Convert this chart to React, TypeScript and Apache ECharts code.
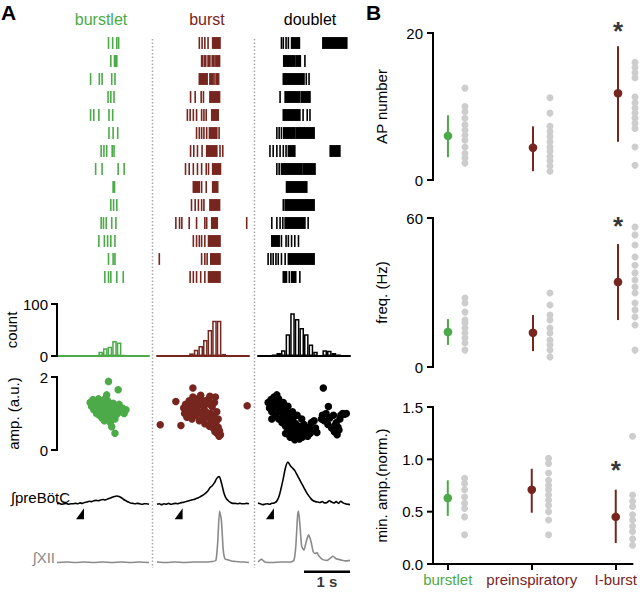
import React, { useEffect, useRef } from 'react';
import * as echarts from 'echarts';

const GREEN = '#4caa48';
const BROWN = '#76261e';
const BLACK = '#000000';
const GRAY_DOT = '#cdcdcd';
const GRAY_TRACE = '#8a8a8a';
const FONT = '"Liberation Sans", Arial, Helvetica, sans-serif';

type Spike = number | [number, number];

// ---------- Panel A data (time in s, 0..2 per column) ----------
const columnNames = ['burstlet', 'burst', 'doublet'];

const burstletRaster: Spike[][] = [
  [1.12, 1.21, 1.3, 1.34],
  [1.17, 1.25, 1.27, 1.3],
  [0.73, 0.92, 0.98, 1.19, 1.26],
  [1.11, 1.17, 1.24],
  [0.73, 0.8, 0.91, 1.13, 1.21],
  [1.13, 1.22, 1.32],
  [0.96, 1.02, 1.08, 1.2, 1.24],
  [0.84, 0.98, 1.33, 1.46],
  [[1.22, 1.25]],
  [1.17, 1.23, 1.3],
  [0.96, 1.01, 1.07, 1.19, 1.28],
  [0.91, 1.03, 1.1, 1.17, 1.26],
  [1.12, 1.22, 1.26],
  [1.04, 1.12, 1.17, 1.3, 1.44],
];

const burstRaster: Spike[][] = [
  [0.92, 0.98, 1.04, 1.11, [1.21, 1.37]],
  [[0.97, 0.99], [1.03, 1.06], [1.11, 1.15], [1.2, 1.24], [1.28, 1.36]],
  [[0.92, 1.07], 1.09, [1.15, 1.22], 1.26, [1.3, 1.34]],
  [0.73, 0.83, 0.96, 1.01, [1.15, 1.36]],
  [0.66, 0.72, 0.79, 0.86, 0.97, 1.02, 1.07, [1.19, 1.33]],
  [0.86, 0.92, 0.97, 1.02, 1.08, [1.14, 1.3], 1.35],
  [0.73, 0.8, 0.88, 0.98, [1.08, 1.3], 1.37, 1.43],
  [0.62, 0.7, 0.79, 0.88, 0.97, 1.07, 1.12, [1.21, 1.38]],
  [[0.79, 0.92], 0.97, 1.07, [1.21, 1.32]],
  [0.75, 0.83, 0.9, 0.97, 1.02, [1.15, 1.36]],
  [0.41, 0.49, 0.54, 0.7, 0.86, 1.04, 1.08, [1.19, 1.31], 1.95],
  [0.79, 0.86, 0.92, 0.97, 1.04, [1.12, 1.37]],
  [0.05, 0.97, 1.04, 1.09, [1.17, 1.37]],
  [0.72, 0.79, 0.86, 0.95, 1.04, [1.12, 1.37]],
];

const doubletRaster: Spike[][] = [
  [0.51, 0.55, 0.61, 0.66, [0.73, 0.9], [1.41, 1.93]],
  [[0.56, 0.8], [0.83, 0.92], 1.02],
  [[0.55, 1.0], 1.05, 1.11],
  [0.48, [0.59, 0.91], [0.95, 1.13]],
  [[0.55, 0.91], 0.98, 1.07, 1.13],
  [0.41, 0.46, 0.51, [0.56, 0.8], [0.83, 1.22]],
  [0.26, 0.33, 0.41, 0.48, 0.55, 0.61, [0.66, 0.8], [1.57, 1.78]],
  [0.41, 0.46, [0.51, 0.95], [0.98, 1.24]],
  [[0.62, 0.83], [0.86, 1.06]],
  [0.55, [0.59, 1.22]],
  [0.3, 0.41, 0.48, 0.54, [0.59, 1.02], 1.09],
  [[0.3, 0.46], 0.51, 0.61, 0.66, 0.73, 0.8, 0.88],
  [0.22, 0.28, 0.33, 0.39, 0.44, 0.51, 0.59, [0.66, 1.22]],
  [[0.55, 0.62], 0.68, [0.73, 0.82], 0.91],
];

// spike-count histograms, 20 bins of 0.1 s
const histBins = Array.from({ length: 20 }, (_, i) => (i / 10).toFixed(1));
const burstletHist = [0, 0, 0, 0, 0, 0, 0, 0, 0, 8, 15, 18, 29, 26, 2, 0, 0, 0, 0, 0];
const burstHist = [0, 0, 0, 0, 0, 0, 0, 5, 12, 19, 31, 50, 68, 68, 4, 0, 0, 0, 0, 0];
const doubletHist = [0, 0, 0, 3, 6, 11, 42, 82, 71, 54, 42, 22, 8, 0, 11, 10, 6, 3, 0, 0];
const countTicks = [0, 100];
const ampTicks = [0, 2];

// amplitude (a.u.) vs time (s)
const burstletAmp: [number, number][] = [
  [0.72, 1.3], [0.75, 1.2], [0.78, 1.38], [0.8, 1.1], [0.82, 1.25], [0.85, 1.32], [0.86, 1.0], [0.88, 1.18],
  [0.9, 1.4], [0.92, 0.95], [0.93, 1.08], [0.95, 1.22], [0.97, 1.3], [0.98, 0.88], [1.0, 1.05], [1.02, 1.15],
  [1.03, 0.8], [1.05, 1.28], [1.06, 0.95], [1.08, 1.1], [1.1, 1.35], [1.11, 0.85], [1.13, 1.02], [1.15, 1.2],
  [1.16, 0.75], [1.18, 1.12], [1.2, 0.92], [1.22, 1.28], [1.24, 1.05], [1.26, 0.85], [1.28, 1.18], [1.3, 0.98],
  [1.32, 1.1], [1.35, 1.25], [1.38, 1.05], [1.42, 1.15], [1.46, 1.0], [1.5, 1.1], [0.84, 1.12], [1.04, 1.4],
  [1.12, 1.88], [1.33, 1.65], [1.08, 1.51], [1.26, 0.46], [1.19, 0.64],
];
const burstAmp: [number, number][] = [
  [0.58, 1.15], [0.6, 1.0], [0.62, 1.25], [0.65, 0.9], [0.67, 1.1], [0.7, 1.35], [0.72, 1.02], [0.74, 1.2],
  [0.76, 0.85], [0.78, 1.45], [0.8, 1.1], [0.82, 1.3], [0.84, 0.95], [0.86, 1.18], [0.88, 1.4], [0.9, 1.05],
  [0.92, 0.8], [0.94, 1.25], [0.96, 1.0], [0.98, 1.35], [1.0, 0.88], [1.02, 1.15], [1.04, 0.72], [1.06, 1.05],
  [1.08, 1.28], [1.1, 0.9], [1.12, 1.4], [1.14, 0.65], [1.16, 1.0], [1.18, 0.8], [1.2, 1.18], [1.22, 0.6],
  [1.24, 0.92], [1.26, 0.5], [1.28, 0.75], [1.3, 1.05], [1.31, 0.45], [1.33, 0.62], [1.35, 0.38], [1.36, 0.52],
  [1.38, 0.42], [1.33, 0.85], [1.25, 1.3], [1.27, 1.45], [0.95, 1.5], [1.05, 1.35], [1.15, 1.25], [0.7, 1.2],
  [0.07, 0.69], [0.52, 0.67], [0.41, 1.33], [1.96, 1.21], [0.78, 1.7], [1.15, 1.47],
];
const doubletAmp: [number, number][] = [
  [0.22, 1.3], [0.25, 1.15], [0.28, 1.38], [0.3, 1.05], [0.33, 1.25], [0.35, 1.45], [0.38, 0.95], [0.4, 1.15],
  [0.42, 1.32], [0.45, 0.85], [0.47, 1.05], [0.5, 1.22], [0.52, 0.75], [0.55, 0.95], [0.57, 1.12], [0.6, 0.65],
  [0.62, 0.85], [0.64, 1.02], [0.66, 0.55], [0.68, 0.75], [0.7, 0.92], [0.72, 0.45], [0.74, 0.62], [0.76, 0.82],
  [0.78, 0.38], [0.8, 0.55], [0.82, 0.72], [0.84, 0.32], [0.86, 0.48], [0.88, 0.65], [0.9, 0.3], [0.92, 0.42],
  [0.94, 0.58], [0.96, 0.35], [0.98, 0.5], [1.0, 0.7], [1.02, 0.4], [1.05, 0.55], [1.08, 0.38], [1.1, 0.62],
  [1.13, 0.45], [1.16, 0.75], [1.18, 0.52], [1.22, 0.8], [1.25, 0.6], [1.28, 0.48], [0.3, 0.85], [0.45, 1.4],
  [0.55, 1.3], [0.65, 1.2], [0.75, 1.05], [0.85, 0.95], [0.95, 0.85], [0.6, 0.45], [0.7, 0.35], [0.8, 0.28],
  [1.38, 0.85], [1.4, 0.95], [1.44, 0.8], [1.48, 1.0], [1.52, 0.7], [1.56, 0.88], [1.6, 0.6], [1.64, 0.95],
  [1.66, 0.5], [1.7, 0.75], [1.72, 0.42], [1.74, 0.62], [1.78, 0.85], [1.8, 0.95], [1.84, 1.0], [1.88, 0.98],
  [1.92, 1.0], [1.76, 0.55], [1.68, 0.68], [1.42, 1.7], [1.53, 1.19], [0.41, 1.51],
];

// integrated preBötC traces (normalised), [t, value]
const burstletPre: [number, number][] = [
  [0, 0.03], [0.05, 0.04], [0.1, 0.02], [0.15, 0.03], [0.2, 0.04], [0.25, 0.02], [0.3, 0.03], [0.35, 0.03],
  [0.4, 0.04], [0.45, 0.03], [0.5, 0.05], [0.55, 0.04], [0.6, 0.06], [0.65, 0.07], [0.7, 0.09], [0.75, 0.08],
  [0.8, 0.1], [0.85, 0.11], [0.9, 0.1], [0.95, 0.12], [1.0, 0.13], [1.05, 0.12], [1.1, 0.14], [1.15, 0.16],
  [1.2, 0.18], [1.25, 0.2], [1.3, 0.21], [1.35, 0.2], [1.4, 0.17], [1.45, 0.13], [1.5, 0.1], [1.55, 0.07],
  [1.6, 0.05], [1.65, 0.04], [1.7, 0.03], [1.75, 0.04], [1.8, 0.03], [1.85, 0.02], [1.9, 0.03], [1.95, 0.03], [2.0, 0.02],
];
const burstPre: [number, number][] = [
  [0, 0.02], [0.05, 0.03], [0.1, 0.01], [0.15, 0.03], [0.2, 0.02], [0.25, 0.04], [0.3, 0.02], [0.35, 0.03],
  [0.4, 0.04], [0.45, 0.03], [0.5, 0.05], [0.55, 0.06], [0.6, 0.07], [0.65, 0.09], [0.7, 0.1], [0.75, 0.12],
  [0.8, 0.13], [0.85, 0.15], [0.9, 0.17], [0.95, 0.2], [1.0, 0.23], [1.05, 0.27], [1.1, 0.32], [1.15, 0.4],
  [1.2, 0.45], [1.25, 0.52], [1.3, 0.62], [1.35, 0.66], [1.4, 0.52], [1.45, 0.3], [1.5, 0.16], [1.55, 0.1],
  [1.6, 0.06], [1.65, 0.04], [1.7, 0.04], [1.75, 0.03], [1.8, 0.04], [1.85, 0.03], [1.9, 0.03], [1.95, 0.04], [2.0, 0.03],
];
const doubletPre: [number, number][] = [
  [0, 0.05], [0.05, 0.03], [0.1, 0.01], [0.15, 0.02], [0.2, 0.03], [0.25, 0.02], [0.3, 0.04], [0.35, 0.05],
  [0.4, 0.08], [0.45, 0.18], [0.5, 0.38], [0.55, 0.62], [0.6, 0.88], [0.65, 1.0], [0.7, 0.92], [0.75, 0.86],
  [0.8, 0.8], [0.85, 0.7], [0.9, 0.6], [0.95, 0.5], [1.0, 0.4], [1.05, 0.3], [1.1, 0.22], [1.15, 0.15],
  [1.2, 0.1], [1.25, 0.08], [1.3, 0.07], [1.35, 0.06], [1.4, 0.08], [1.45, 0.05], [1.5, 0.06], [1.55, 0.1],
  [1.6, 0.07], [1.65, 0.05], [1.7, 0.08], [1.75, 0.04], [1.8, 0.09], [1.85, 0.05], [1.9, 0.03], [1.95, 0.02], [2.0, 0.01],
];

// integrated XII traces (normalised), [t, value]
const burstletXII: [number, number][] = [
  [0, 0.01], [0.2, 0.02], [0.4, 0.01], [0.6, 0.02], [0.8, 0.01], [1.0, 0.02], [1.2, 0.01], [1.4, 0.02],
  [1.6, 0.01], [1.8, 0.02], [2.0, 0.01],
];
const burstXII: [number, number][] = [
  [0, 0.02], [0.2, 0.01], [0.4, 0.02], [0.6, 0.01], [0.8, 0.02], [1.0, 0.02], [1.2, 0.03], [1.28, 0.05],
  [1.32, 0.4], [1.36, 1.0], [1.4, 0.82], [1.44, 0.25], [1.48, 0.08], [1.55, 0.06], [1.62, 0.04], [1.7, 0.03],
  [1.8, 0.02], [1.9, 0.02], [2.0, 0.01],
];
const doubletXII: [number, number][] = [
  [0, 0.02], [0.05, 0.06], [0.08, 0.07], [0.12, 0.04], [0.15, 0.02], [0.3, 0.01], [0.5, 0.02], [0.7, 0.02],
  [0.78, 0.05], [0.82, 0.3], [0.86, 0.9], [0.88, 1.0], [0.91, 0.75], [0.95, 0.32], [1.0, 0.25], [1.05, 0.42],
  [1.1, 0.54], [1.15, 0.42], [1.2, 0.22], [1.24, 0.18], [1.28, 0.2], [1.32, 0.14], [1.4, 0.07], [1.5, 0.05],
  [1.58, 0.1], [1.63, 0.13], [1.7, 0.08], [1.8, 0.06], [1.9, 0.04], [2.0, 0.05],
];

const stimTimes = [0.5, 0.47, 0.26];
const scaleBarSec: [number, number] = [1, 2];

// ---------- Panel B data ----------
const bCategories = ['burstlet', 'preinspiratory', 'I-burst'];

const apDots = [
  [12.5, 10.0, 9.3, 8.4, 7.5, 6.8, 6.1, 5.4, 4.5, 3.6, 3.0, 2.3],
  [11.2, 9.1, 7.3, 6.6, 5.9, 5.2, 4.5, 3.9, 3.2, 2.6, 1.9, 1.2],
  [16.0, 15.3, 14.6, 13.9, 11.3, 10.5, 9.8, 9.1, 8.4, 7.7, 7.0, 4.5, 2.0],
];
const apMean = [6.0, 4.4, 11.8];
const apLow = [3.1, 1.2, 5.2];
const apHigh = [8.8, 7.3, 18.2];
const apTicks = [0, 20];

const freqDots = [
  [27.8, 25.8, 22.1, 18.9, 17.7, 15.7, 13.7, 11.7, 9.7, 6.8],
  [29.8, 25.0, 20.9, 18.9, 15.7, 13.7, 10.9, 8.9, 6.8, 4.0],
  [56.4, 53.2, 49.1, 44.3, 41.0, 37.9, 35.0, 32.2, 29.8, 25.8, 23.0, 20.1, 16.9, 6.8],
];
const freqMean = [14.1, 13.8, 34.2];
const freqLow = [8.9, 6.4, 18.9];
const freqHigh = [19.3, 20.9, 49.5];
const freqTicks = [0, 60];

const ampDots = [
  [0.82, 0.77, 0.71, 0.64, 0.58, 0.53, 0.45, 0.28],
  [1.01, 0.96, 0.87, 0.8, 0.75, 0.71, 0.66, 0.61, 0.56, 0.5, 0.42, 0.28],
  [1.22, 0.66, 0.6, 0.55, 0.47, 0.42, 0.36, 0.31, 0.24, 0.18],
];
const ampMean = [0.63, 0.71, 0.45];
const ampLow = [0.46, 0.49, 0.2];
const ampHigh = [0.8, 0.91, 0.71];
const minAmpTicks = [0, 0.5, 1.0, 1.5];

// significance markers (value at which "*" is drawn, I-burst only)
const sigAP = 20.3;
const sigFreq = 56.8;
const sigAmp = 0.9;

// ---------- build chart ----------
function leftAxis(gi: number, min: number, max: number, interval: number, name: string, nameGap: number, margin: number, fmt?: (v: number) => string) {
  return {
    type: 'value',
    gridIndex: gi,
    position: 'left',
    min,
    max,
    interval,
    axisLine: { show: false },
    axisTick: { show: false },
    axisLabel: { show: true, color: '#000', fontSize: 15, fontFamily: FONT, margin, formatter: fmt },
    splitLine: { show: false },
    name,
    nameLocation: 'middle',
    nameGap,
    nameTextStyle: { fontSize: 15, color: '#000', fontFamily: FONT },
  };
}

// custom series that draws a vertical axis line with outward ticks at the grid's left edge
function axisSeries(gi: number, ticks: number[], xRef: number) {
  return {
    type: 'custom',
    xAxisIndex: gi,
    yAxisIndex: gi,
    data: ticks.map((t) => [xRef, t]),
    encode: { x: 0, y: 1 },
    clip: false,
    silent: true,
    z: 5,
    renderItem: (params: any, api: any) => {
      const cs = params.coordSys;
      const p = api.coord([api.value(0), api.value(1)]);
      const children: any[] = [
        { type: 'line', shape: { x1: cs.x - 6, y1: p[1], x2: cs.x, y2: p[1] }, style: { stroke: '#000', lineWidth: 2 } },
      ];
      if (params.dataIndex === 0) {
        children.push({
          type: 'line',
          shape: { x1: cs.x, y1: cs.y - 1, x2: cs.x, y2: cs.y + cs.height + 1 },
          style: { stroke: '#000', lineWidth: 2 },
        });
      }
      return { type: 'group', children };
    },
  };
}

function buildOption() {
  const colColors = [GREEN, BROWN, BLACK];
  const rasters = [burstletRaster, burstRaster, doubletRaster];
  const hists = [burstletHist, burstHist, doubletHist];
  const amps = [burstletAmp, burstAmp, doubletAmp];
  const pres = [burstletPre, burstPre, doubletPre];
  const xiis = [burstletXII, burstXII, doubletXII];
  const colX = [57, 157, 258];
  const colW = 92;
  const rowLabels = Array.from({ length: 14 }, (_, i) => String(i));

  const grids: any[] = [];
  const xAxes: any[] = [];
  const yAxes: any[] = [];
  const series: any[] = [];

  const hiddenX = (gi: number) => ({ type: 'value', gridIndex: gi, min: 0, max: 2, show: false });

  for (let c = 0; c < 3; c++) {
    const base = grids.length;
    const color = colColors[c];
    // raster
    grids.push({ left: colX[c], top: 34, width: colW, height: 252 });
    xAxes.push(hiddenX(base));
    yAxes.push({ type: 'category', gridIndex: base, data: rowLabels, inverse: true, show: false });
    const rasterData: number[][] = [];
    rasters[c].forEach((row, r) => {
      row.forEach((sp) => {
        if (Array.isArray(sp)) rasterData.push([r, sp[0], sp[1]]);
        else rasterData.push([r, sp, sp]);
      });
    });
    series.push({
      type: 'custom',
      xAxisIndex: base,
      yAxisIndex: base,
      data: rasterData,
      encode: { x: [1, 2], y: 0 },
      renderItem: (params: any, api: any) => {
        const r = api.value(0);
        const p1 = api.coord([api.value(1), r]);
        const p2 = api.coord([api.value(2), r]);
        const h = api.size([0, 1])[1] * 0.66;
        return {
          type: 'rect',
          shape: { x: p1[0] - 0.8, y: p1[1] - h / 2, width: p2[0] - p1[0] + 1.6, height: h },
          style: { fill: color },
        };
      },
    });

    // histogram
    grids.push({ left: colX[c], top: 304, width: colW, height: 52 });
    xAxes.push({
      type: 'category',
      gridIndex: base + 1,
      data: histBins,
      axisLine: { show: true, onZero: false, lineStyle: { color, width: 2 } },
      axisTick: { show: false },
      axisLabel: { show: false },
    });
    yAxes.push(
      c === 0
        ? leftAxis(base + 1, 0, 100, 100, 'count', 36, 9)
        : { type: 'value', gridIndex: base + 1, min: 0, max: 100, show: false }
    );
    series.push({
      type: 'bar',
      xAxisIndex: base + 1,
      yAxisIndex: base + 1,
      data: hists[c],
      barCategoryGap: '0%',
      itemStyle: { color: '#ffffff', borderColor: color, borderWidth: 1.5 },
      z: 3,
    });
    if (c === 0) series.push(axisSeries(base + 1, countTicks, 0));

    // amplitude scatter
    grids.push({ left: colX[c], top: 377, width: colW, height: 73 });
    xAxes.push(hiddenX(base + 2));
    yAxes.push(
      c === 0
        ? leftAxis(base + 2, 0, 2, 2, 'amp. (a.u.)', 36, 9)
        : { type: 'value', gridIndex: base + 2, min: 0, max: 2, show: false }
    );
    series.push({
      type: 'scatter',
      xAxisIndex: base + 2,
      yAxisIndex: base + 2,
      data: amps[c],
      symbolSize: 7.5,
      itemStyle: { color, opacity: 1 },
      clip: false,
    });
    if (c === 0) series.push(axisSeries(base + 2, ampTicks, 0));

    // preBötC trace
    grids.push({ left: colX[c], top: 462, width: colW, height: 56 });
    xAxes.push(hiddenX(base + 3));
    yAxes.push({ type: 'value', gridIndex: base + 3, min: -0.3, max: 1, show: false });
    series.push({
      type: 'line',
      xAxisIndex: base + 3,
      yAxisIndex: base + 3,
      data: pres[c],
      showSymbol: false,
      smooth: 0.3,
      lineStyle: { color: '#000', width: 1.6 },
    });
    series.push({
      type: 'scatter',
      xAxisIndex: base + 3,
      yAxisIndex: base + 3,
      data: [[stimTimes[c], -0.2]],
      symbol: 'path://M8,0 L8,11 L0,11 Z',
      symbolSize: [8, 11],
      itemStyle: { color: '#000', opacity: 1 },
    });

    // XII trace
    grids.push({ left: colX[c], top: 511, width: colW, height: 52 });
    xAxes.push(hiddenX(base + 4));
    yAxes.push({ type: 'value', gridIndex: base + 4, min: 0, max: 1, show: false });
    series.push({
      type: 'line',
      xAxisIndex: base + 4,
      yAxisIndex: base + 4,
      data: xiis[c],
      showSymbol: false,
      smooth: 0.2,
      clip: false,
      lineStyle: { color: GRAY_TRACE, width: 1.6 },
    });
    if (c === 2) {
      series.push({
        type: 'line',
        xAxisIndex: base + 4,
        yAxisIndex: base + 4,
        data: [[scaleBarSec[0], -0.17], [scaleBarSec[1], -0.17]],
        showSymbol: false,
        clip: false,
        lineStyle: { color: '#000', width: 2.5 },
      });
      series.push({
        type: 'scatter',
        xAxisIndex: base + 4,
        yAxisIndex: base + 4,
        data: [[(scaleBarSec[0] + scaleBarSec[1]) / 2, -0.17]],
        symbolSize: 0,
        clip: false,
        label: {
          show: true, position: 'bottom', distance: 2, formatter: '1 s',
          fontSize: 15, fontWeight: 'bold', color: '#000', fontFamily: FONT,
        },
      });
    }
  }

  // ---------- Panel B ----------
  const bColors = [GREEN, BROWN, BROWN];
  const bLeft = 433;
  const bWidth = 202;
  const bPanels = [
    { top: 33, height: 147, max: 20, interval: 20, ticks: apTicks, name: 'AP number', dots: apDots, mean: apMean, low: apLow, high: apHigh, sig: sigAP, fmt: (v: number) => String(v) },
    { top: 218, height: 149, max: 60, interval: 60, ticks: freqTicks, name: 'freq. (Hz)', dots: freqDots, mean: freqMean, low: freqLow, high: freqHigh, sig: sigFreq, fmt: (v: number) => String(v) },
    { top: 407, height: 157, max: 1.5, interval: 0.5, ticks: minAmpTicks, name: 'min. amp.(norm.)', dots: ampDots, mean: ampMean, low: ampLow, high: ampHigh, sig: sigAmp, fmt: (v: number) => v.toFixed(1) },
  ];
  bPanels.forEach((p, k) => {
    const gi = grids.length;
    grids.push({ left: bLeft, top: p.top, width: bWidth, height: p.height });
    if (k === 2) {
      xAxes.push({
        type: 'value', gridIndex: gi, min: -0.176, max: 2.2, position: 'bottom',
        axisLine: { show: true, onZero: false, lineStyle: { color: '#000', width: 2 } },
        axisTick: { show: true, length: 6, customValues: [0, 1, 2], lineStyle: { color: '#000', width: 2 } },
        axisLabel: {
          show: true, customValues: [0, 1, 2], margin: 8,
          formatter: (v: number) => {
            const i = Math.round(v);
            return (i === 0 ? '{g|' : '{b|') + bCategories[i] + '}';
          },
          rich: {
            g: { color: GREEN, fontSize: 15, fontFamily: FONT },
            b: { color: BROWN, fontSize: 15, fontFamily: FONT },
          },
        },
        splitLine: { show: false },
      });
    } else {
      xAxes.push({ type: 'value', gridIndex: gi, min: -0.176, max: 2.2, show: false });
    }
    yAxes.push(leftAxis(gi, 0, p.max, p.interval, p.name, 44, 10, p.fmt));
    series.push(axisSeries(gi, p.ticks, 0));
    const dotData: number[][] = [];
    p.dots.forEach((arr, ci) => arr.forEach((v) => dotData.push([ci + 0.2, v])));
    series.push({
      type: 'scatter', xAxisIndex: gi, yAxisIndex: gi, data: dotData, symbolSize: 7,
      itemStyle: { color: GRAY_DOT, opacity: 1 }, clip: false,
    });
    const meanData = p.mean.map((m, ci) => [ci, m, p.low[ci], p.high[ci]]);
    series.push({
      type: 'custom', xAxisIndex: gi, yAxisIndex: gi, data: meanData,
      encode: { x: 0, y: [1, 2, 3] },
      clip: false,
      renderItem: (params: any, api: any) => {
        const col = bColors[params.dataIndex];
        const x = api.value(0);
        const pm = api.coord([x, api.value(1)]);
        const pl = api.coord([x, api.value(2)]);
        const ph = api.coord([x, api.value(3)]);
        return {
          type: 'group',
          children: [
            { type: 'line', shape: { x1: pl[0], y1: pl[1], x2: ph[0], y2: ph[1] }, style: { stroke: col, lineWidth: 2 } },
            { type: 'circle', shape: { cx: pm[0], cy: pm[1], r: 4.3 }, style: { fill: col } },
          ],
        };
      },
    });
    series.push({
      type: 'scatter', xAxisIndex: gi, yAxisIndex: gi, data: [[2, p.sig]], symbolSize: 0, clip: false,
      label: {
        show: true, position: 'inside', formatter: '*', fontSize: 26, fontWeight: 'bold',
        color: '#000', fontFamily: FONT,
      },
    });
  });

  const txt = (text: string, x: number, y: number, fill: string, size: number, weight = 'normal', align = 'left') => ({
    type: 'text', x, y,
    style: { text, fill, fontSize: size, fontWeight: weight, fontFamily: FONT, textAlign: align, textVerticalAlign: 'middle' },
  });
  const sep = (x: number) => ({
    type: 'line',
    shape: { x1: x, y1: 39, x2: x, y2: 568 },
    style: { stroke: '#a8a8a8', lineWidth: 1.5, lineDash: [1.5, 2] },
  });

  const graphic = [
    txt('A', 1, 12, '#000', 21, 'bold'),
    txt('B', 366, 12, '#000', 21, 'bold'),
    txt(columnNames[0], 101, 19, GREEN, 16, 'normal', 'center'),
    txt(columnNames[1], 207, 19, BROWN, 16, 'normal', 'center'),
    txt(columnNames[2], 310, 19, '#000', 16, 'normal', 'center'),
    txt('\u222BpreBötC', 70, 497, '#000', 15, 'normal', 'right'),
    txt('\u222BXII', 55, 557, GRAY_TRACE, 15, 'normal', 'right'),
    sep(152.5),
    sep(254.5),
  ];

  return {
    animation: false,
    backgroundColor: '#ffffff',
    textStyle: { fontFamily: FONT },
    grid: grids,
    xAxis: xAxes,
    yAxis: yAxes,
    series,
    graphic,
  };
}

export default function App() {
  const ref = useRef<HTMLDivElement>(null);
  useEffect(() => {
    if (!ref.current) return;
    const chart = echarts.init(ref.current, undefined, { renderer: 'svg' });
    chart.setOption(buildOption() as any);
    return () => chart.dispose();
  }, []);
  return (
    <div
      ref={ref}
      style={{ position: 'fixed', left: 0, top: 0, width: 640, height: 593, background: '#fff' }}
    />
  );
}
